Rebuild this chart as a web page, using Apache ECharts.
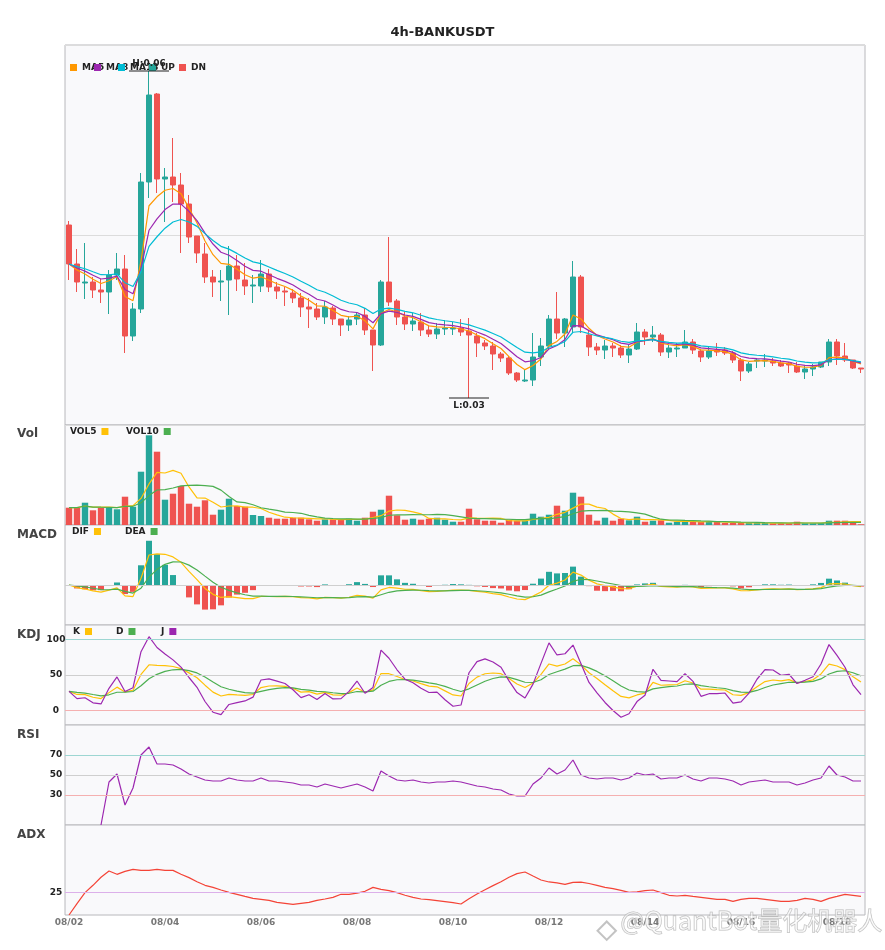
<!DOCTYPE html>
<html>
<head>
<meta charset="utf-8">
<title>4h-BANKUSDT</title>
<script src="https://cdn.jsdelivr.net/npm/echarts@6/dist/echarts.min.js"></script>
<style>
    html, body { margin: 0; padding: 0; background: #fff; }
    #chart { width: 885px; height: 950px; }
</style>
</head>
<body>
<div id="chart"></div>
<script>
// x axis: 4h bars, 6 per day
var days = ['08/02','08/03','08/04','08/05','08/06','08/07','08/08','08/09','08/10',
            '08/11','08/12','08/13','08/14','08/15','08/16','08/17','08/18'];
var hours = ['00:00','04:00','08:00','12:00','16:00','20:00'];

var openP = [
    0.0473,0.0434,0.0415,0.0416,0.0408,0.0406,0.0423,0.0429,0.0362,0.0389,
    0.0516,0.0604,0.0519,0.0521,0.0513,0.0494,0.0462,0.0444,0.0421,0.0416,
    0.0418,0.0432,0.0418,0.0412,0.0412,0.0424,0.0411,0.0407,0.0405,0.0400,
    0.0391,0.0389,0.0381,0.0390,0.0379,0.0373,0.0379,0.0383,0.0368,0.0353,
    0.0416,0.0397,0.0381,0.0374,0.0376,0.0368,0.0364,0.0369,0.0369,0.0370,
    0.0367,0.0362,0.0355,0.0352,0.0344,0.0340,0.0325,0.0317,0.0318,0.0341,
    0.0352,0.0379,0.0365,0.0371,0.0421,0.0363,0.0351,0.0348,0.0352,0.0350,
    0.0343,0.0349,0.0366,0.0361,0.0363,0.0346,0.0349,0.0350,0.0356,0.0347,
    0.0341,0.0348,0.0348,0.0345,0.0338,0.0327,0.0337,0.0337,0.0337,0.0335,
    0.0335,0.0332,0.0326,0.0329,0.0331,0.0336,0.0356,0.0342,0.0338,0.0330
];
var closeP = [
    0.0434,0.0416,0.0416,0.0408,0.0406,0.0423,0.0429,0.0362,0.0389,0.0516,
    0.0603,0.0519,0.0521,0.0513,0.0494,0.0461,0.0445,0.0421,0.0416,0.0417,
    0.0432,0.0419,0.0412,0.0413,0.0424,0.0411,0.0407,0.0406,0.0400,0.0391,
    0.0389,0.0381,0.0391,0.0379,0.0373,0.0378,0.0383,0.0368,0.0353,0.0416,
    0.0396,0.0381,0.0374,0.0377,0.0368,0.0364,0.0369,0.0370,0.0370,0.0366,
    0.0363,0.0355,0.0352,0.0344,0.0340,0.0325,0.0318,0.0318,0.0341,0.0352,
    0.0379,0.0365,0.0379,0.0421,0.0371,0.0351,0.0348,0.0352,0.0350,0.0343,
    0.0349,0.0366,0.0361,0.0363,0.0346,0.0350,0.0350,0.0356,0.0348,0.0341,
    0.0347,0.0346,0.0345,0.0338,0.0327,0.0334,0.0338,0.0338,0.0335,0.0332,
    0.0333,0.0326,0.0329,0.0331,0.0336,0.0356,0.0342,0.0338,0.0330,0.0329
];
var highP = [
    0.0477,0.0449,0.0455,0.0421,0.0419,0.0428,0.0445,0.0443,0.0395,0.0525,
    0.0627,0.0605,0.0530,0.0560,0.0525,0.0503,0.0462,0.0455,0.0428,0.0428,
    0.0452,0.0443,0.0435,0.0423,0.0438,0.0429,0.0416,0.0411,0.0409,0.0405,
    0.0400,0.0395,0.0397,0.0392,0.0379,0.0382,0.0386,0.0390,0.0368,0.0418,
    0.0461,0.0399,0.0386,0.0385,0.0385,0.0373,0.0375,0.0378,0.0376,0.0379,
    0.0380,0.0365,0.0358,0.0356,0.0346,0.0342,0.0326,0.0329,0.0365,0.0360,
    0.0383,0.0406,0.0380,0.0437,0.0423,0.0368,0.0355,0.0358,0.0355,0.0353,
    0.0353,0.0375,0.0369,0.0372,0.0365,0.0353,0.0355,0.0368,0.0359,0.0348,
    0.0351,0.0355,0.0351,0.0347,0.0340,0.0336,0.0340,0.0344,0.0340,0.0338,
    0.0336,0.0336,0.0332,0.0334,0.0336,0.0359,0.0359,0.0355,0.0338,0.0330
];
var lowP = [
    0.0418,0.0406,0.0399,0.0400,0.0395,0.0384,0.0418,0.0345,0.0357,0.0385,
    0.0500,0.0505,0.0476,0.0496,0.0445,0.0455,0.0435,0.0415,0.0401,0.0397,
    0.0383,0.0407,0.0403,0.0395,0.0406,0.0406,0.0399,0.0392,0.0395,0.0381,
    0.0370,0.0378,0.0374,0.0373,0.0362,0.0367,0.0373,0.0363,0.0327,0.0352,
    0.0392,0.0373,0.0368,0.0367,0.0362,0.0361,0.0359,0.0363,0.0363,0.0362,
    0.0300,0.0341,0.0348,0.0328,0.0336,0.0323,0.0316,0.0316,0.0312,0.0332,
    0.0349,0.0359,0.0351,0.0365,0.0365,0.0342,0.0343,0.0339,0.0341,0.0340,
    0.0335,0.0348,0.0353,0.0356,0.0342,0.0340,0.0341,0.0350,0.0344,0.0336,
    0.0339,0.0342,0.0343,0.0335,0.0317,0.0325,0.0330,0.0331,0.0332,0.0331,
    0.0325,0.0325,0.0319,0.0322,0.0330,0.0332,0.0333,0.0336,0.0329,0.0325
];
var volume = [
    1730,1730,2230,1470,1730,1730,1570,2830,1830,5330,
    8970,7330,2530,3130,3900,2130,1830,2470,1030,1530,
    2630,1900,1830,1000,900,730,630,630,730,730,
    570,430,570,570,570,630,430,730,1330,1530,
    2930,970,530,630,530,630,730,530,330,330,
    1630,570,430,430,230,530,430,430,1130,830,
    1030,1930,1430,3230,2830,1030,430,730,430,630,
    470,830,330,430,470,230,330,430,300,300,
    300,300,200,200,200,200,200,200,170,170,
    170,330,170,170,170,430,430,430,300,70
];
var rsiVal = [
    '-','-','-','-',0,43,51,20,37,70,
    78,61,61,60,56,51,48,45,44,44,
    47,45,44,44,47,44,44,43,42,40,
    40,38,41,39,37,39,41,38,34,54,
    49,45,44,45,43,42,43,43,44,43,
    41,39,38,36,35,31,29,29,41,47,
    57,51,55,65,50,47,46,47,47,45,
    47,52,50,51,46,47,47,50,46,44,
    47,47,46,44,40,43,44,45,43,43,
    43,40,42,45,47,59,50,48,44,44
];
var adxVal = [
    0,12.6,24.8,33,41.9,48.9,45.2,48.5,50.7,49.6,
    49.6,50.7,49.6,49.6,45.2,41.5,37,33,30.7,27.8,
    25.2,23,20.7,18.5,17.4,16.3,14,12.9,11.8,12.9,
    14,16.3,17.8,19.6,23,23,24.4,26.3,30.7,28.5,
    27,24.8,21.9,19.6,17.8,17,15.9,14.8,13.7,12.2,
    18.1,23.3,28.1,32.6,37,41.9,46,47.8,43.3,38.9,
    36.7,35.6,34.1,36.3,36.5,35,33,30.7,29.3,27.4,
    25.2,25.6,27,27.8,24.8,21.9,21.1,21.9,20.7,19.6,
    18.5,17.4,17.4,15.2,17.4,18.5,18.5,17.4,16.3,15.2,
    15.2,16.3,18.5,17.4,15.2,18.5,20.7,23,21.9,20.7
];

var UP_COLOR = '#26a69a', DOWN_COLOR = '#ef5350';
var FONT = 'DejaVu Sans';

function merge() {
    var out = {};
    for (var i = 0; i < arguments.length; i++) {
        for (var k in arguments[i]) out[k] = arguments[i][k];
    }
    return out;
}

var categories = [];
days.forEach(function (d) {
    hours.forEach(function (h) {
        if (categories.length < closeP.length) categories.push(d + ' ' + h);
    });
});

// indicator helpers
function ema(arr, n) {
    var k = 2 / (n + 1), out = [], prev;
    arr.forEach(function (v, i) {
        prev = i === 0 ? v : prev + k * (v - prev);
        out.push(prev);
    });
    return out;
}
function sma(arr, n) {
    return arr.map(function (v, i) {
        var s = 0, c = 0;
        for (var j = Math.max(0, i - n + 1); j <= i; j++) { s += arr[j]; c++; }
        return s / c;
    });
}
function kdj(n) {
    var K = [], D = [], J = [], k, d;
    closeP.forEach(function (c, i) {
        var hh = -Infinity, ll = Infinity;
        for (var j = Math.max(0, i - n + 1); j <= i; j++) {
            hh = Math.max(hh, highP[j]);
            ll = Math.min(ll, lowP[j]);
        }
        var rsv = hh === ll ? 50 : (c - ll) / (hh - ll) * 100;
        if (i === 0) { k = rsv; d = rsv; }
        k = 2 / 3 * k + rsv / 3;
        d = 2 / 3 * d + k / 3;
        K.push(k); D.push(d); J.push(3 * k - 2 * d);
    });
    return {K: K, D: D, J: J};
}

var candles = closeP.map(function (c, i) { return [openP[i], c, lowP[i], highP[i]]; });
var ma5 = ema(closeP, 5), ma8 = ema(closeP, 8), ma13 = ema(closeP, 13);
var e6 = ema(closeP, 6), e13 = ema(closeP, 13);
var dif = e6.map(function (v, i) { return v - e13[i]; });
var dea = ema(dif, 5);
var hist = dif.map(function (v, i) { return 2 * (v - dea[i]); });
var vol5 = sma(volume, 5), vol10 = sma(volume, 10);
var kd = kdj(9);

var hiIdx = highP.indexOf(Math.max.apply(null, highP));
var loIdx = lowP.indexOf(Math.min.apply(null, lowP));

var gridTops = [45, 425, 525, 625, 725, 825];
var gridHeights = [380, 100, 100, 100, 100, 90];

var grids = gridTops.map(function (t, i) {
    return {
        left: 65, right: 20, top: t, height: gridHeights[i],
        show: true, backgroundColor: '#f9f9fb', borderColor: '#b8b8bc', borderWidth: 1
    };
});

var xAxes = gridTops.map(function (t, i) {
    return {
        type: 'category', gridIndex: i, data: categories, boundaryGap: true,
        axisLine: {show: false}, axisTick: {show: false}, splitLine: {show: false},
        axisLabel: {
            show: i === 5, margin: 3,
            interval: function (idx) { return idx % 12 === 0; },
            formatter: function (v) { return v.slice(0, 5); },
            color: '#777', fontSize: 9, fontWeight: 'bold', fontFamily: FONT
        }
    };
});

function onlyLabels(list) {
    return function (v) { return list.indexOf(v) >= 0 ? String(v) : ''; };
}
var yLabel = {color: '#222', fontSize: 9, fontWeight: 'bold', fontFamily: FONT, align: 'center', margin: 9};
var plainAxis = {axisLine: {show: false}, axisTick: {show: false}, splitLine: {show: false}};

var yAxes = [
    merge(plainAxis, {gridIndex: 0, min: 0.0273, max: 0.0653, interval: 0.019, axisLabel: {show: false},
        splitLine: {show: true, lineStyle: {color: '#dcdcdc'}}}),
    merge(plainAxis, {gridIndex: 1, min: 0, max: 10000, axisLabel: {show: false}}),
    merge(plainAxis, {gridIndex: 2, min: -0.004, max: 0.006, axisLabel: {show: false}}),
    merge(plainAxis, {gridIndex: 3, min: -20, max: 120, interval: 10,
        axisLabel: merge(yLabel, {formatter: onlyLabels([0, 50, 100])})}),
    merge(plainAxis, {gridIndex: 4, min: 0, max: 100, interval: 10,
        axisLabel: merge(yLabel, {formatter: onlyLabels([30, 50, 70])})}),
    merge(plainAxis, {gridIndex: 5, min: 0, max: 100, interval: 25,
        axisLabel: merge(yLabel, {formatter: onlyLabels([25])})})
];

function refLines(list) {
    return {
        silent: true, symbol: ['none', 'none'], label: {show: false}, animation: false,
        data: list.map(function (r) {
            return {yAxis: r[0], lineStyle: {color: r[1], type: 'solid', width: 1}};
        })
    };
}

function line(name, data, color, gi, extra) {
    var s = {
        name: name, type: 'line', data: data, xAxisIndex: gi, yAxisIndex: gi,
        symbol: 'none', smooth: false, color: color,
        lineStyle: {width: 1.2, color: color}
    };
    return extra ? merge(s, extra) : s;
}

var markStyle = {fontSize: 9, fontWeight: 'bold', color: '#222', fontFamily: FONT};

var series = [
    {
        name: 'K线', type: 'candlestick', data: candles, xAxisIndex: 0, yAxisIndex: 0, barWidth: '75%',
        itemStyle: {color: UP_COLOR, color0: DOWN_COLOR, borderColor: UP_COLOR, borderColor0: DOWN_COLOR},
        markPoint: {
            silent: true, animation: false,
            data: [
                {coord: [hiIdx, highP[hiIdx]], symbol: 'rect', symbolSize: [40, 1], itemStyle: {color: '#222'},
                 label: merge(markStyle, {show: true, position: 'top', distance: 2,
                     formatter: 'H:' + highP[hiIdx].toFixed(2)})},
                {coord: [loIdx, lowP[loIdx]], symbol: 'rect', symbolSize: [40, 1], itemStyle: {color: '#222'},
                 label: merge(markStyle, {show: true, position: 'bottom', distance: 3,
                     formatter: 'L:' + lowP[loIdx].toFixed(2)})}
            ]
        }
    },
    line('MA5', ma5, '#ff9800', 0),
    line('MA8', ma8, '#9c27b0', 0),
    line('MA13', ma13, '#00bcd4', 0),
    line('UP', [], UP_COLOR, 0),
    line('DN', [], DOWN_COLOR, 0),
    {
        name: 'Vol', type: 'bar', data: volume, xAxisIndex: 1, yAxisIndex: 1, barWidth: '80%',
        itemStyle: {color: function (p) { return closeP[p.dataIndex] >= openP[p.dataIndex] ? UP_COLOR : DOWN_COLOR; }}
    },
    line('VOL5', vol5, '#ffc107', 1),
    line('VOL10', vol10, '#4caf50', 1),
    {
        name: 'MACD', type: 'bar', data: hist, xAxisIndex: 2, yAxisIndex: 2, barWidth: '75%',
        itemStyle: {color: function (p) { return p.value >= 0 ? UP_COLOR : DOWN_COLOR; }}
    },
    line('DIF', dif, '#ffc107', 2, {markLine: refLines([[0, '#cfcfcf']])}),
    line('DEA', dea, '#4caf50', 2),
    line('K', kd.K, '#ffc107', 3, {markLine: refLines([[100, '#9dd6d2'], [50, '#cfcfcf'], [0, '#f5b0b0']])}),
    line('D', kd.D, '#4caf50', 3),
    line('J', kd.J, '#9c27b0', 3),
    line('RSI', rsiVal, '#9c27b0', 4, {markLine: refLines([[70, '#9dd6d2'], [50, '#cfcfcf'], [30, '#f5b0b0']])}),
    line('ADX', adxVal, '#f44336', 5, {markLine: refLines([[25, '#dcb0ea']])})
];

var legendText = {fontSize: 9, fontWeight: 'bold', color: '#222', fontFamily: FONT};
function legendItem(name, left, top, align) {
    return {
        data: [name], left: left, top: top, align: align || 'left', padding: 0, itemGap: 0,
        icon: 'rect', itemWidth: 7, itemHeight: 7, selectedMode: false, textStyle: legendText
    };
}
var legends = [
    legendItem('MA5', 70, 63), legendItem('MA8', 94, 63), legendItem('MA13', 118, 63),
    legendItem('UP', 149, 63), legendItem('DN', 179, 63),
    legendItem('VOL5', 70, 427, 'right'), legendItem('VOL10', 126, 427, 'right'),
    legendItem('DIF', 72, 527, 'right'), legendItem('DEA', 125, 527, 'right'),
    legendItem('K', 73, 627, 'right'), legendItem('D', 116, 627, 'right'), legendItem('J', 161, 627, 'right')
];

var panelTitle = {fontSize: 12, fontWeight: 'bold', color: '#444', fontFamily: FONT};
var titles = [
    {text: '4h-BANKUSDT', left: 'center', top: 26, padding: 0,
     textStyle: {fontSize: 13, fontWeight: 'bold', color: '#222', fontFamily: FONT}},
    {text: 'Vol', left: 17, top: 428, padding: 0, textStyle: panelTitle},
    {text: 'MACD', left: 17, top: 529, padding: 0, textStyle: panelTitle},
    {text: 'KDJ', left: 17, top: 629, padding: 0, textStyle: panelTitle},
    {text: 'RSI', left: 17, top: 729, padding: 0, textStyle: panelTitle},
    {text: 'ADX', left: 17, top: 829, padding: 0, textStyle: panelTitle}
];

var chart = echarts.init(document.getElementById('chart'));
chart.setOption({
    animation: false,
    backgroundColor: '#fff',
    title: titles,
    legend: legends,
    grid: grids,
    xAxis: xAxes,
    yAxis: yAxes,
    series: series,
    graphic: [
        {type: 'rect', left: 594, top: 918, z: 100, rotation: Math.PI / 4,
         shape: {width: 13, height: 13}, style: {fill: 'none', stroke: 'rgba(170,170,170,0.7)', lineWidth: 2}},
        {type: 'text', left: 620, top: 907, z: 100,
         style: {text: '@QuantBot量化机器人', fontSize: 25, fontFamily: 'Noto Sans CJK SC',
                 fill: 'rgba(255,255,255,0.55)', stroke: 'rgba(160,160,160,0.7)', lineWidth: 1}}
    ]
});
</script>
</body>
</html>
